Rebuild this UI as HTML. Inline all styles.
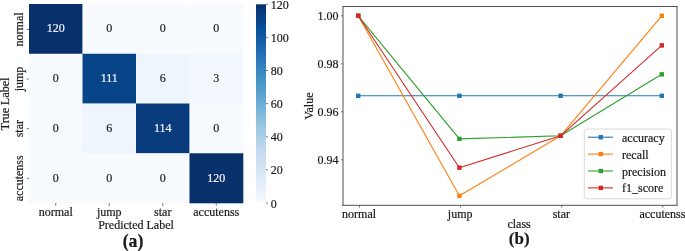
<!DOCTYPE html><html><head><meta charset="utf-8"><style>html,body{margin:0;padding:0;background:#fff;width:685px;height:251px;overflow:hidden}svg{display:block;will-change:transform}text{font-family:"Liberation Serif",serif;font-size:12px;fill:#1a1a1a;stroke:#1a1a1a;stroke-width:0.2px}text.w{fill:#f4f4f4;stroke:#f4f4f4}</style></head><body>
<svg width="685" height="251" viewBox="0 0 685 251">
<defs><linearGradient id="cb" x1="0" y1="0" x2="0" y2="1"><stop offset="0.000" stop-color="#08306b"/><stop offset="0.062" stop-color="#084082"/><stop offset="0.125" stop-color="#08509b"/><stop offset="0.188" stop-color="#1460a8"/><stop offset="0.250" stop-color="#2070b4"/><stop offset="0.312" stop-color="#3181bd"/><stop offset="0.375" stop-color="#4191c6"/><stop offset="0.438" stop-color="#56a0ce"/><stop offset="0.500" stop-color="#6aaed6"/><stop offset="0.562" stop-color="#84bcdb"/><stop offset="0.625" stop-color="#9dcae1"/><stop offset="0.688" stop-color="#b2d2e8"/><stop offset="0.750" stop-color="#c6dbef"/><stop offset="0.812" stop-color="#d2e3f3"/><stop offset="0.875" stop-color="#deebf7"/><stop offset="0.938" stop-color="#eaf3fb"/><stop offset="1.000" stop-color="#f7fbff"/></linearGradient></defs>
<rect x="29" y="4" width="53.8" height="50.05" fill="#08306b"/>
<rect x="82.5" y="4" width="53.8" height="50.05" fill="#f7fbff"/>
<rect x="136" y="4" width="53.8" height="50.05" fill="#f7fbff"/>
<rect x="189.5" y="4" width="53.8" height="50.05" fill="#f7fbff"/>
<rect x="29" y="53.75" width="53.8" height="50.05" fill="#f7fbff"/>
<rect x="82.5" y="53.75" width="53.8" height="50.05" fill="#084488"/>
<rect x="136" y="53.75" width="53.8" height="50.05" fill="#eef5fc"/>
<rect x="189.5" y="53.75" width="53.8" height="50.05" fill="#f2f8fd"/>
<rect x="29" y="103.5" width="53.8" height="50.05" fill="#f7fbff"/>
<rect x="82.5" y="103.5" width="53.8" height="50.05" fill="#eef5fc"/>
<rect x="136" y="103.5" width="53.8" height="50.05" fill="#083c7d"/>
<rect x="189.5" y="103.5" width="53.8" height="50.05" fill="#f7fbff"/>
<rect x="29" y="153.25" width="53.8" height="50.05" fill="#f7fbff"/>
<rect x="82.5" y="153.25" width="53.8" height="50.05" fill="#f7fbff"/>
<rect x="136" y="153.25" width="53.8" height="50.05" fill="#f7fbff"/>
<rect x="189.5" y="153.25" width="53.8" height="50.05" fill="#08306b"/>
<text class="w" x="55.75" y="32.48" text-anchor="middle">120</text>
<text x="109.25" y="32.48" text-anchor="middle">0</text>
<text x="162.75" y="32.48" text-anchor="middle">0</text>
<text x="216.25" y="32.48" text-anchor="middle">0</text>
<text x="55.75" y="82.22" text-anchor="middle">0</text>
<text class="w" x="109.25" y="82.22" text-anchor="middle">111</text>
<text x="162.75" y="82.22" text-anchor="middle">6</text>
<text x="216.25" y="82.22" text-anchor="middle">3</text>
<text x="55.75" y="131.97" text-anchor="middle">0</text>
<text x="109.25" y="131.97" text-anchor="middle">6</text>
<text class="w" x="162.75" y="131.97" text-anchor="middle">114</text>
<text x="216.25" y="131.97" text-anchor="middle">0</text>
<text x="55.75" y="181.72" text-anchor="middle">0</text>
<text x="109.25" y="181.72" text-anchor="middle">0</text>
<text x="162.75" y="181.72" text-anchor="middle">0</text>
<text class="w" x="216.25" y="181.72" text-anchor="middle">120</text>
<line x1="55.75" y1="203" x2="55.75" y2="205.8" stroke="#555" stroke-width="0.8"/>
<text x="55.75" y="216.2" text-anchor="middle">normal</text>
<line x1="26.6" y1="29.4" x2="29" y2="29.4" stroke="#555" stroke-width="0.8"/>
<text transform="translate(23,29.4) rotate(-90)" text-anchor="middle">normal</text>
<line x1="109.25" y1="203" x2="109.25" y2="205.8" stroke="#555" stroke-width="0.8"/>
<text x="109.25" y="216.2" text-anchor="middle">jump</text>
<line x1="26.6" y1="79.03" x2="29" y2="79.03" stroke="#555" stroke-width="0.8"/>
<text transform="translate(23,79.03) rotate(-90)" text-anchor="middle">jump</text>
<line x1="162.75" y1="203" x2="162.75" y2="205.8" stroke="#555" stroke-width="0.8"/>
<text x="162.75" y="216.2" text-anchor="middle">star</text>
<line x1="26.6" y1="128.66" x2="29" y2="128.66" stroke="#555" stroke-width="0.8"/>
<text transform="translate(23,128.66) rotate(-90)" text-anchor="middle">star</text>
<line x1="216.25" y1="203" x2="216.25" y2="205.8" stroke="#555" stroke-width="0.8"/>
<text x="216.25" y="216.2" text-anchor="middle">accutenss</text>
<line x1="26.6" y1="178.29" x2="29" y2="178.29" stroke="#555" stroke-width="0.8"/>
<text transform="translate(23,178.29) rotate(-90)" text-anchor="middle">accutenss</text>
<text transform="translate(8.8,103.9) rotate(-90)" text-anchor="middle">True Label</text>
<text x="136" y="229.2" text-anchor="middle">Predicted Label</text>
<text x="133" y="247.4" text-anchor="middle" style="font-weight:bold;font-size:17.8px">(a)</text>
<rect x="256" y="4.3" width="10" height="198.7" fill="url(#cb)"/>
<line x1="266" y1="203" x2="268" y2="203" stroke="#555" stroke-width="0.8"/>
<text x="270.7" y="207.5">0</text>
<line x1="266" y1="169.88" x2="268" y2="169.88" stroke="#555" stroke-width="0.8"/>
<text x="270.7" y="174.38">20</text>
<line x1="266" y1="136.77" x2="268" y2="136.77" stroke="#555" stroke-width="0.8"/>
<text x="270.7" y="141.27">40</text>
<line x1="266" y1="103.65" x2="268" y2="103.65" stroke="#555" stroke-width="0.8"/>
<text x="270.7" y="108.15">60</text>
<line x1="266" y1="70.53" x2="268" y2="70.53" stroke="#555" stroke-width="0.8"/>
<text x="270.7" y="75.03">80</text>
<line x1="266" y1="37.42" x2="268" y2="37.42" stroke="#555" stroke-width="0.8"/>
<text x="270.7" y="41.92">100</text>
<line x1="266" y1="4.3" x2="268" y2="4.3" stroke="#555" stroke-width="0.8"/>
<text x="270.7" y="8.8">120</text>
<line x1="342.5" y1="6.5" x2="677.5" y2="6.5" stroke="#505050" stroke-width="1"/>
<line x1="342.5" y1="205.3" x2="677.5" y2="205.3" stroke="#505050" stroke-width="1"/>
<line x1="343" y1="6" x2="343" y2="205.8" stroke="#505050" stroke-width="1"/>
<line x1="677" y1="6" x2="677" y2="205.8" stroke="#505050" stroke-width="1"/>
<line x1="341" y1="15.8" x2="343" y2="15.8" stroke="#555" stroke-width="0.8"/>
<text x="338.4" y="19.9" text-anchor="end">1.00</text>
<line x1="341" y1="63.8" x2="343" y2="63.8" stroke="#555" stroke-width="0.8"/>
<text x="338.4" y="67.9" text-anchor="end">0.98</text>
<line x1="341" y1="111.8" x2="343" y2="111.8" stroke="#555" stroke-width="0.8"/>
<text x="338.4" y="115.9" text-anchor="end">0.96</text>
<line x1="341" y1="159.8" x2="343" y2="159.8" stroke="#555" stroke-width="0.8"/>
<text x="338.4" y="163.9" text-anchor="end">0.94</text>
<line x1="359.5" y1="205" x2="359.5" y2="207.6" stroke="#555" stroke-width="0.8"/>
<text x="359.1" y="218.1" text-anchor="middle">normal</text>
<line x1="460.6" y1="205" x2="460.6" y2="207.6" stroke="#555" stroke-width="0.8"/>
<text x="460.2" y="218.1" text-anchor="middle">jump</text>
<line x1="561.7" y1="205" x2="561.7" y2="207.6" stroke="#555" stroke-width="0.8"/>
<text x="561.3" y="218.1" text-anchor="middle">star</text>
<line x1="662.8" y1="205" x2="662.8" y2="207.6" stroke="#555" stroke-width="0.8"/>
<text x="662.4" y="218.1" text-anchor="middle">accutenss</text>
<text transform="translate(312.8,106.2) rotate(-90)" text-anchor="middle">Value</text>
<text x="519.1" y="228.1" text-anchor="middle">class</text>
<text x="519.2" y="243.5" text-anchor="middle" style="font-weight:bold;font-size:17px">(b)</text>
<polyline points="358.2,95.79 459.4,95.79 560.6,95.79 661.8,95.79" fill="none" stroke="#1f77b4" stroke-width="1.1" stroke-linejoin="round"/>
<rect x="356" y="93.59" width="4.4" height="4.4" fill="#1f77b4"/>
<rect x="457.2" y="93.59" width="4.4" height="4.4" fill="#1f77b4"/>
<rect x="558.4" y="93.59" width="4.4" height="4.4" fill="#1f77b4"/>
<rect x="659.6" y="93.59" width="4.4" height="4.4" fill="#1f77b4"/>
<polyline points="358.2,15.8 459.4,195.8 560.6,135.8 661.8,15.8" fill="none" stroke="#ff7f0e" stroke-width="1.1" stroke-linejoin="round"/>
<rect x="356" y="13.6" width="4.4" height="4.4" fill="#ff7f0e"/>
<rect x="457.2" y="193.6" width="4.4" height="4.4" fill="#ff7f0e"/>
<rect x="558.4" y="133.6" width="4.4" height="4.4" fill="#ff7f0e"/>
<rect x="659.6" y="13.6" width="4.4" height="4.4" fill="#ff7f0e"/>
<polyline points="358.2,15.8 459.4,138.88 560.6,135.8 661.8,74.34" fill="none" stroke="#2ca02c" stroke-width="1.1" stroke-linejoin="round"/>
<rect x="356" y="13.6" width="4.4" height="4.4" fill="#2ca02c"/>
<rect x="457.2" y="136.68" width="4.4" height="4.4" fill="#2ca02c"/>
<rect x="558.4" y="133.6" width="4.4" height="4.4" fill="#2ca02c"/>
<rect x="659.6" y="72.14" width="4.4" height="4.4" fill="#2ca02c"/>
<polyline points="358.2,15.8 459.4,167.7 560.6,135.8 661.8,45.43" fill="none" stroke="#d62728" stroke-width="1.1" stroke-linejoin="round"/>
<rect x="356" y="13.6" width="4.4" height="4.4" fill="#d62728"/>
<rect x="457.2" y="165.5" width="4.4" height="4.4" fill="#d62728"/>
<rect x="558.4" y="133.6" width="4.4" height="4.4" fill="#d62728"/>
<rect x="659.6" y="43.23" width="4.4" height="4.4" fill="#d62728"/>
<rect x="584.3" y="129" width="87.1" height="69.8" rx="2" ry="2" fill="#fff" fill-opacity="0.8" stroke="#d0d0d0" stroke-width="0.8"/>
<line x1="588" y1="137.2" x2="613" y2="137.2" stroke="#1f77b4" stroke-width="1.1"/>
<rect x="598.6" y="135" width="4.4" height="4.4" fill="#1f77b4"/>
<text x="622" y="141.7">accuracy</text>
<line x1="588" y1="154.1" x2="613" y2="154.1" stroke="#ff7f0e" stroke-width="1.1"/>
<rect x="598.6" y="151.9" width="4.4" height="4.4" fill="#ff7f0e"/>
<text x="622" y="158.6">recall</text>
<line x1="588" y1="171" x2="613" y2="171" stroke="#2ca02c" stroke-width="1.1"/>
<rect x="598.6" y="168.8" width="4.4" height="4.4" fill="#2ca02c"/>
<text x="622" y="175.5">precision</text>
<line x1="588" y1="187.9" x2="613" y2="187.9" stroke="#d62728" stroke-width="1.1"/>
<rect x="598.6" y="185.7" width="4.4" height="4.4" fill="#d62728"/>
<text x="622" y="192.4">f1_score</text>
</svg></body></html>
